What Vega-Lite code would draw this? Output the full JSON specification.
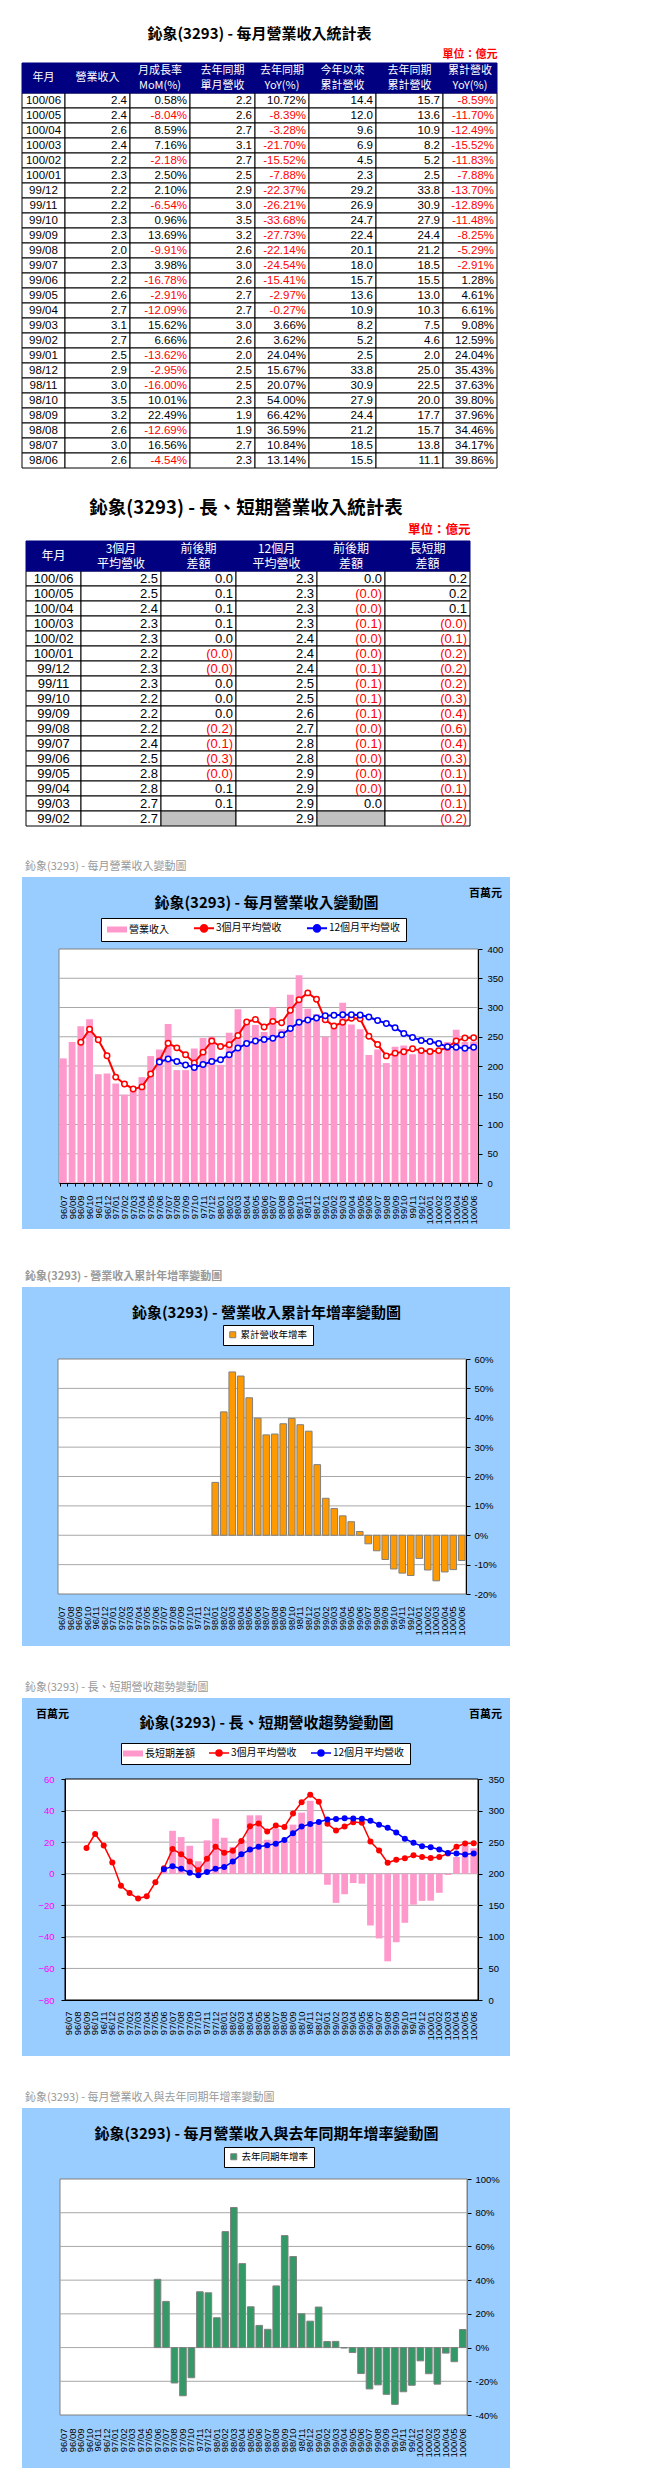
{
"$schema": "https://vega.github.io/schema/vega-lite/v6.json",
"padding": {"left": 17, "top": 0, "right": 0, "bottom": 10},
"background": "#FFFFFF",
"spacing": 0,
"bounds": "flush",
"resolve": {"scale": {"color": "independent", "x": "independent", "y": "independent"}, "legend": {"color": "independent"}},
"datasets": {
"m": [
{"ym":"96/07","rev":213},
{"ym":"96/08","rev":241},
{"ym":"96/09","rev":268,"m3":240.7},
{"ym":"96/10","rev":280,"m3":263},
{"ym":"96/11","rev":186,"m3":244.7},
{"ym":"96/12","rev":187,"m3":217.7},
{"ym":"97/01","rev":170,"m3":181},
{"ym":"97/02","rev":151,"m3":169.3},
{"ym":"97/03","rev":161,"m3":160.7},
{"ym":"97/04","rev":181,"m3":164.3},
{"ym":"97/05","rev":217,"m3":186.3},
{"ym":"97/06","rev":228,"m3":208.7,"m12":206.9,"df":1.8,"yy":40.5},
{"ym":"97/07","rev":272,"m3":239,"m12":211.8,"df":27.2,"yy":27.4},
{"ym":"97/08","rev":193,"m3":231,"m12":207.8,"df":23.2,"yy":-21.0},
{"ym":"97/09","rev":193,"m3":219.3,"m12":201.6,"df":17.7,"yy":-28.6},
{"ym":"97/10","rev":230,"m3":205.3,"m12":197.4,"df":7.9,"yy":-17.9},
{"ym":"97/11","rev":248,"m3":223.7,"m12":202.6,"df":21.1,"yy":33.1},
{"ym":"97/12","rev":250,"m3":242.7,"m12":207.8,"df":34.9,"yy":32.5},
{"ym":"98/01","rev":202,"m3":233.3,"m12":210.5,"df":22.8,"cy":18.0,"yy":17.7},
{"ym":"98/02","rev":257,"m3":236.3,"m12":219.3,"df":17.0,"cy":42.0,"yy":68.8},
{"ym":"98/03","rev":297,"m3":252,"m12":230.7,"df":21.3,"cy":55.6,"yy":83.1},
{"ym":"98/04","rev":272,"m3":275.3,"m12":238.3,"df":37.0,"cy":54.2,"yy":49.8},
{"ym":"98/05","rev":270,"m3":279.7,"m12":242.7,"df":37.0,"cy":46.8,"yy":24.2},
{"ym":"98/06","rev":258,"m3":266.7,"m12":245.2,"df":21.5,"cy":39.86,"yy":13.14},
{"ym":"98/07","rev":301,"m3":276.3,"m12":247.6,"df":28.7,"cy":34.17,"yy":10.84},
{"ym":"98/08","rev":263,"m3":274,"m12":253.4,"df":20.6,"cy":34.46,"yy":36.59},
{"ym":"98/09","rev":322,"m3":295.3,"m12":264.2,"df":31.1,"cy":37.96,"yy":66.42},
{"ym":"98/10","rev":355,"m3":313.3,"m12":274.6,"df":38.7,"cy":39.8,"yy":54.0},
{"ym":"98/11","rev":298,"m3":325,"m12":278.8,"df":46.2,"cy":37.63,"yy":20.07},
{"ym":"98/12","rev":289,"m3":314,"m12":282,"df":32.0,"cy":35.43,"yy":15.67},
{"ym":"99/01","rev":250,"m3":279,"m12":286,"df":-7.0,"cy":24.04,"yy":24.04},
{"ym":"99/02","rev":266,"m3":268.3,"m12":286.8,"df":-18.5,"cy":12.59,"yy":3.62},
{"ym":"99/03","rev":308,"m3":274.7,"m12":287.7,"df":-13.0,"cy":9.08,"yy":3.66},
{"ym":"99/04","rev":271,"m3":281.7,"m12":287.6,"df":-5.9,"cy":6.61,"yy":-0.27},
{"ym":"99/05","rev":263,"m3":280.7,"m12":287,"df":-6.3,"cy":4.61,"yy":-2.97},
{"ym":"99/06","rev":219,"m3":251,"m12":283.8,"df":-32.8,"cy":1.28,"yy":-15.41},
{"ym":"99/07","rev":228,"m3":236.7,"m12":277.7,"df":-41.0,"cy":-2.91,"yy":-24.54},
{"ym":"99/08","rev":205,"m3":217.3,"m12":272.8,"df":-55.5,"cy":-5.29,"yy":-22.14},
{"ym":"99/09","rev":233,"m3":222,"m12":265.4,"df":-43.4,"cy":-8.25,"yy":-27.73},
{"ym":"99/10","rev":235,"m3":224.3,"m12":255.4,"df":-31.1,"cy":-11.48,"yy":-33.68},
{"ym":"99/11","rev":220,"m3":229.3,"m12":248.9,"df":-19.6,"cy":-12.89,"yy":-26.21},
{"ym":"99/12","rev":224,"m3":226.3,"m12":243.5,"df":-17.2,"cy":-13.7,"yy":-22.37},
{"ym":"100/01","rev":230,"m3":224.7,"m12":241.8,"df":-17.1,"cy":-7.88,"yy":-7.88},
{"ym":"100/02","rev":225,"m3":226.3,"m12":238.4,"df":-12.1,"cy":-11.83,"yy":-15.52},
{"ym":"100/03","rev":241,"m3":232,"m12":232.8,"df":-0.8,"cy":-15.52,"yy":-21.7},
{"ym":"100/04","rev":262,"m3":242.7,"m12":232.1,"df":10.6,"cy":-12.49,"yy":-3.28},
{"ym":"100/05","rev":241,"m3":248,"m12":230.3,"df":17.7,"cy":-11.7,"yy":-8.39},
{"ym":"100/06","rev":242,"m3":248.3,"m12":232.2,"df":16.1,"cy":-8.59,"yy":10.72}
],
"t1": [
{"ym":"100/06","rev":"2.4","mom":"0.58%","lm":"2.2","ly":"10.72%","ytd":"14.4","lytd":"15.7","cy":"-8.59%"},
{"ym":"100/05","rev":"2.4","mom":"-8.04%","lm":"2.6","ly":"-8.39%","ytd":"12.0","lytd":"13.6","cy":"-11.70%"},
{"ym":"100/04","rev":"2.6","mom":"8.59%","lm":"2.7","ly":"-3.28%","ytd":"9.6","lytd":"10.9","cy":"-12.49%"},
{"ym":"100/03","rev":"2.4","mom":"7.16%","lm":"3.1","ly":"-21.70%","ytd":"6.9","lytd":"8.2","cy":"-15.52%"},
{"ym":"100/02","rev":"2.2","mom":"-2.18%","lm":"2.7","ly":"-15.52%","ytd":"4.5","lytd":"5.2","cy":"-11.83%"},
{"ym":"100/01","rev":"2.3","mom":"2.50%","lm":"2.5","ly":"-7.88%","ytd":"2.3","lytd":"2.5","cy":"-7.88%"},
{"ym":"99/12","rev":"2.2","mom":"2.10%","lm":"2.9","ly":"-22.37%","ytd":"29.2","lytd":"33.8","cy":"-13.70%"},
{"ym":"99/11","rev":"2.2","mom":"-6.54%","lm":"3.0","ly":"-26.21%","ytd":"26.9","lytd":"30.9","cy":"-12.89%"},
{"ym":"99/10","rev":"2.3","mom":"0.96%","lm":"3.5","ly":"-33.68%","ytd":"24.7","lytd":"27.9","cy":"-11.48%"},
{"ym":"99/09","rev":"2.3","mom":"13.69%","lm":"3.2","ly":"-27.73%","ytd":"22.4","lytd":"24.4","cy":"-8.25%"},
{"ym":"99/08","rev":"2.0","mom":"-9.91%","lm":"2.6","ly":"-22.14%","ytd":"20.1","lytd":"21.2","cy":"-5.29%"},
{"ym":"99/07","rev":"2.3","mom":"3.98%","lm":"3.0","ly":"-24.54%","ytd":"18.0","lytd":"18.5","cy":"-2.91%"},
{"ym":"99/06","rev":"2.2","mom":"-16.78%","lm":"2.6","ly":"-15.41%","ytd":"15.7","lytd":"15.5","cy":"1.28%"},
{"ym":"99/05","rev":"2.6","mom":"-2.91%","lm":"2.7","ly":"-2.97%","ytd":"13.6","lytd":"13.0","cy":"4.61%"},
{"ym":"99/04","rev":"2.7","mom":"-12.09%","lm":"2.7","ly":"-0.27%","ytd":"10.9","lytd":"10.3","cy":"6.61%"},
{"ym":"99/03","rev":"3.1","mom":"15.62%","lm":"3.0","ly":"3.66%","ytd":"8.2","lytd":"7.5","cy":"9.08%"},
{"ym":"99/02","rev":"2.7","mom":"6.66%","lm":"2.6","ly":"3.62%","ytd":"5.2","lytd":"4.6","cy":"12.59%"},
{"ym":"99/01","rev":"2.5","mom":"-13.62%","lm":"2.0","ly":"24.04%","ytd":"2.5","lytd":"2.0","cy":"24.04%"},
{"ym":"98/12","rev":"2.9","mom":"-2.95%","lm":"2.5","ly":"15.67%","ytd":"33.8","lytd":"25.0","cy":"35.43%"},
{"ym":"98/11","rev":"3.0","mom":"-16.00%","lm":"2.5","ly":"20.07%","ytd":"30.9","lytd":"22.5","cy":"37.63%"},
{"ym":"98/10","rev":"3.5","mom":"10.01%","lm":"2.3","ly":"54.00%","ytd":"27.9","lytd":"20.0","cy":"39.80%"},
{"ym":"98/09","rev":"3.2","mom":"22.49%","lm":"1.9","ly":"66.42%","ytd":"24.4","lytd":"17.7","cy":"37.96%"},
{"ym":"98/08","rev":"2.6","mom":"-12.69%","lm":"1.9","ly":"36.59%","ytd":"21.2","lytd":"15.7","cy":"34.46%"},
{"ym":"98/07","rev":"3.0","mom":"16.56%","lm":"2.7","ly":"10.84%","ytd":"18.5","lytd":"13.8","cy":"34.17%"},
{"ym":"98/06","rev":"2.6","mom":"-4.54%","lm":"2.3","ly":"13.14%","ytd":"15.5","lytd":"11.1","cy":"39.86%"}
],
"t2": [
{"ym":"100/06","a3":"2.5","d3":"0.0","a12":"2.3","d12":"0.0","ls":"0.2"},
{"ym":"100/05","a3":"2.5","d3":"0.1","a12":"2.3","d12":"(0.0)","ls":"0.2"},
{"ym":"100/04","a3":"2.4","d3":"0.1","a12":"2.3","d12":"(0.0)","ls":"0.1"},
{"ym":"100/03","a3":"2.3","d3":"0.1","a12":"2.3","d12":"(0.1)","ls":"(0.0)"},
{"ym":"100/02","a3":"2.3","d3":"0.0","a12":"2.4","d12":"(0.0)","ls":"(0.1)"},
{"ym":"100/01","a3":"2.2","d3":"(0.0)","a12":"2.4","d12":"(0.0)","ls":"(0.2)"},
{"ym":"99/12","a3":"2.3","d3":"(0.0)","a12":"2.4","d12":"(0.1)","ls":"(0.2)"},
{"ym":"99/11","a3":"2.3","d3":"0.0","a12":"2.5","d12":"(0.1)","ls":"(0.2)"},
{"ym":"99/10","a3":"2.2","d3":"0.0","a12":"2.5","d12":"(0.1)","ls":"(0.3)"},
{"ym":"99/09","a3":"2.2","d3":"0.0","a12":"2.6","d12":"(0.1)","ls":"(0.4)"},
{"ym":"99/08","a3":"2.2","d3":"(0.2)","a12":"2.7","d12":"(0.0)","ls":"(0.6)"},
{"ym":"99/07","a3":"2.4","d3":"(0.1)","a12":"2.8","d12":"(0.1)","ls":"(0.4)"},
{"ym":"99/06","a3":"2.5","d3":"(0.3)","a12":"2.8","d12":"(0.0)","ls":"(0.3)"},
{"ym":"99/05","a3":"2.8","d3":"(0.0)","a12":"2.9","d12":"(0.0)","ls":"(0.1)"},
{"ym":"99/04","a3":"2.8","d3":"0.1","a12":"2.9","d12":"(0.0)","ls":"(0.1)"},
{"ym":"99/03","a3":"2.7","d3":"0.1","a12":"2.9","d12":"0.0","ls":"(0.1)"},
{"ym":"99/02","a3":"2.7","d3":"","a12":"2.9","d12":"","ls":"(0.2)"}
]
},
"vconcat": [
{"width": 10, "height": 63, "data": {"values": [{}]}, "mark": {"type": "point", "opacity": 0}},
{
 "width": 475, "height": 405,
 "title": {"text": "鈊象(3293) - 每月營業收入統計表", "anchor": "middle", "frame": "group", "fontSize": 15, "fontWeight": "bold", "color": "#000000", "offset": 6},
 "encoding": {"y": {"field": "ym", "type": "ordinal", "scale": {"domain": ["h1","h2","100/06","100/05","100/04","100/03","100/02","100/01","99/12","99/11","99/10","99/09","99/08","99/07","99/06","99/05","99/04","99/03","99/02","99/01","98/12","98/11","98/10","98/09","98/08","98/07","98/06"], "paddingInner": 0, "paddingOuter": 0}, "axis": null}},
 "resolve": {"scale": {"x": "independent"}},
 "layer": [
  {"layer": [
   {"data": {"name": "t1"}, "mark": {"type": "rect", "fill": "#FFFFFF", "stroke": "#000000", "strokeWidth": 1}, "encoding": {"x": {"datum": 0, "type": "quantitative", "scale": {"domain": [0, 1], "range": [0, 43]}, "axis": null}, "x2": {"datum": 1}}},
   {"data": {"values": [{"ym": "h1"}, {"ym": "h2"}]}, "mark": {"type": "rect", "fill": "#000080", "stroke": "#000080", "strokeWidth": 1}, "encoding": {"x": {"datum": 0, "type": "quantitative"}, "x2": {"datum": 1}}},
   {"data": {"values": [{"ym": "h2", "t": "年月"}]}, "mark": {"type": "text", "color": "#FFFFFF", "fontSize": 11}, "encoding": {"x": {"datum": 0.5, "type": "quantitative"}, "y": {"field": "ym", "type": "ordinal", "bandPosition": 0}, "text": {"field": "t"}}},
   {"data": {"name": "t1"}, "mark": {"type": "text", "color": "#000000", "font": "Liberation Sans", "fontSize": 11.5}, "encoding": {"x": {"datum": 0.5, "type": "quantitative"}, "text": {"field": "ym"}}}
  ]},
  {"layer": [
   {"data": {"name": "t1"}, "mark": {"type": "rect", "fill": "#FFFFFF", "stroke": "#000000", "strokeWidth": 1}, "encoding": {"x": {"datum": 0, "type": "quantitative", "scale": {"domain": [0, 1], "range": [43, 108]}, "axis": null}, "x2": {"datum": 1}}},
   {"data": {"values": [{"ym": "h1"}, {"ym": "h2"}]}, "mark": {"type": "rect", "fill": "#000080", "stroke": "#000080", "strokeWidth": 1}, "encoding": {"x": {"datum": 0, "type": "quantitative"}, "x2": {"datum": 1}}},
   {"data": {"values": [{"ym": "h2", "t": "營業收入"}]}, "mark": {"type": "text", "color": "#FFFFFF", "fontSize": 11}, "encoding": {"x": {"datum": 0.5, "type": "quantitative"}, "y": {"field": "ym", "type": "ordinal", "bandPosition": 0}, "text": {"field": "t"}}},
   {"data": {"name": "t1"}, "mark": {"type": "text", "align": "right", "dx": -3, "color": "#000000", "font": "Liberation Sans", "fontSize": 11.5}, "encoding": {"x": {"datum": 1, "type": "quantitative"}, "text": {"field": "rev"}}}
  ]},
  {"layer": [
   {"data": {"name": "t1"}, "mark": {"type": "rect", "fill": "#FFFFFF", "stroke": "#000000", "strokeWidth": 1}, "encoding": {"x": {"datum": 0, "type": "quantitative", "scale": {"domain": [0, 1], "range": [108, 168]}, "axis": null}, "x2": {"datum": 1}}},
   {"data": {"values": [{"ym": "h1"}, {"ym": "h2"}]}, "mark": {"type": "rect", "fill": "#000080", "stroke": "#000080", "strokeWidth": 1}, "encoding": {"x": {"datum": 0, "type": "quantitative"}, "x2": {"datum": 1}}},
   {"data": {"values": [{"ym": "h1", "t": "月成長率"}, {"ym": "h2", "t": "MoM(%)"}]}, "mark": {"type": "text", "color": "#FFFFFF", "fontSize": 11}, "encoding": {"x": {"datum": 0.5, "type": "quantitative"}, "text": {"field": "t"}}},
   {"data": {"name": "t1"}, "mark": {"type": "text", "align": "right", "dx": -3, "font": "Liberation Sans", "fontSize": 11.5}, "encoding": {"x": {"datum": 1, "type": "quantitative"}, "text": {"field": "mom"}, "color": {"condition": {"test": "indexof(datum.mom,'-')===0", "value": "#FF0000"}, "value": "#000000"}}}
  ]},
  {"layer": [
   {"data": {"name": "t1"}, "mark": {"type": "rect", "fill": "#FFFFFF", "stroke": "#000000", "strokeWidth": 1}, "encoding": {"x": {"datum": 0, "type": "quantitative", "scale": {"domain": [0, 1], "range": [168, 233]}, "axis": null}, "x2": {"datum": 1}}},
   {"data": {"values": [{"ym": "h1"}, {"ym": "h2"}]}, "mark": {"type": "rect", "fill": "#000080", "stroke": "#000080", "strokeWidth": 1}, "encoding": {"x": {"datum": 0, "type": "quantitative"}, "x2": {"datum": 1}}},
   {"data": {"values": [{"ym": "h1", "t": "去年同期"}, {"ym": "h2", "t": "單月營收"}]}, "mark": {"type": "text", "color": "#FFFFFF", "fontSize": 11}, "encoding": {"x": {"datum": 0.5, "type": "quantitative"}, "text": {"field": "t"}}},
   {"data": {"name": "t1"}, "mark": {"type": "text", "align": "right", "dx": -3, "color": "#000000", "font": "Liberation Sans", "fontSize": 11.5}, "encoding": {"x": {"datum": 1, "type": "quantitative"}, "text": {"field": "lm"}}}
  ]},
  {"layer": [
   {"data": {"name": "t1"}, "mark": {"type": "rect", "fill": "#FFFFFF", "stroke": "#000000", "strokeWidth": 1}, "encoding": {"x": {"datum": 0, "type": "quantitative", "scale": {"domain": [0, 1], "range": [233, 287]}, "axis": null}, "x2": {"datum": 1}}},
   {"data": {"values": [{"ym": "h1"}, {"ym": "h2"}]}, "mark": {"type": "rect", "fill": "#000080", "stroke": "#000080", "strokeWidth": 1}, "encoding": {"x": {"datum": 0, "type": "quantitative"}, "x2": {"datum": 1}}},
   {"data": {"values": [{"ym": "h1", "t": "去年同期"}, {"ym": "h2", "t": "YoY(%)"}]}, "mark": {"type": "text", "color": "#FFFFFF", "fontSize": 11}, "encoding": {"x": {"datum": 0.5, "type": "quantitative"}, "text": {"field": "t"}}},
   {"data": {"name": "t1"}, "mark": {"type": "text", "align": "right", "dx": -3, "font": "Liberation Sans", "fontSize": 11.5}, "encoding": {"x": {"datum": 1, "type": "quantitative"}, "text": {"field": "ly"}, "color": {"condition": {"test": "indexof(datum.ly,'-')===0", "value": "#FF0000"}, "value": "#000000"}}}
  ]},
  {"layer": [
   {"data": {"name": "t1"}, "mark": {"type": "rect", "fill": "#FFFFFF", "stroke": "#000000", "strokeWidth": 1}, "encoding": {"x": {"datum": 0, "type": "quantitative", "scale": {"domain": [0, 1], "range": [287, 354]}, "axis": null}, "x2": {"datum": 1}}},
   {"data": {"values": [{"ym": "h1"}, {"ym": "h2"}]}, "mark": {"type": "rect", "fill": "#000080", "stroke": "#000080", "strokeWidth": 1}, "encoding": {"x": {"datum": 0, "type": "quantitative"}, "x2": {"datum": 1}}},
   {"data": {"values": [{"ym": "h1", "t": "今年以來"}, {"ym": "h2", "t": "累計營收"}]}, "mark": {"type": "text", "color": "#FFFFFF", "fontSize": 11}, "encoding": {"x": {"datum": 0.5, "type": "quantitative"}, "text": {"field": "t"}}},
   {"data": {"name": "t1"}, "mark": {"type": "text", "align": "right", "dx": -3, "color": "#000000", "font": "Liberation Sans", "fontSize": 11.5}, "encoding": {"x": {"datum": 1, "type": "quantitative"}, "text": {"field": "ytd"}}}
  ]},
  {"layer": [
   {"data": {"name": "t1"}, "mark": {"type": "rect", "fill": "#FFFFFF", "stroke": "#000000", "strokeWidth": 1}, "encoding": {"x": {"datum": 0, "type": "quantitative", "scale": {"domain": [0, 1], "range": [354, 421]}, "axis": null}, "x2": {"datum": 1}}},
   {"data": {"values": [{"ym": "h1"}, {"ym": "h2"}]}, "mark": {"type": "rect", "fill": "#000080", "stroke": "#000080", "strokeWidth": 1}, "encoding": {"x": {"datum": 0, "type": "quantitative"}, "x2": {"datum": 1}}},
   {"data": {"values": [{"ym": "h1", "t": "去年同期"}, {"ym": "h2", "t": "累計營收"}]}, "mark": {"type": "text", "color": "#FFFFFF", "fontSize": 11}, "encoding": {"x": {"datum": 0.5, "type": "quantitative"}, "text": {"field": "t"}}},
   {"data": {"name": "t1"}, "mark": {"type": "text", "align": "right", "dx": -3, "color": "#000000", "font": "Liberation Sans", "fontSize": 11.5}, "encoding": {"x": {"datum": 1, "type": "quantitative"}, "text": {"field": "lytd"}}}
  ]},
  {"layer": [
   {"data": {"name": "t1"}, "mark": {"type": "rect", "fill": "#FFFFFF", "stroke": "#000000", "strokeWidth": 1}, "encoding": {"x": {"datum": 0, "type": "quantitative", "scale": {"domain": [0, 1], "range": [421, 475]}, "axis": {"orient": "top", "labels": false, "ticks": false, "domain": false, "grid": false, "title": "單位：億元", "titleAnchor": "end", "titleColor": "#FF0000", "titleFontSize": 11, "titleFontWeight": "bold", "titlePadding": 4}}, "x2": {"datum": 1}}},
   {"data": {"values": [{"ym": "h1"}, {"ym": "h2"}]}, "mark": {"type": "rect", "fill": "#000080", "stroke": "#000080", "strokeWidth": 1}, "encoding": {"x": {"datum": 0, "type": "quantitative"}, "x2": {"datum": 1}}},
   {"data": {"values": [{"ym": "h1", "t": "累計營收"}, {"ym": "h2", "t": "YoY(%)"}]}, "mark": {"type": "text", "color": "#FFFFFF", "fontSize": 11}, "encoding": {"x": {"datum": 0.5, "type": "quantitative"}, "text": {"field": "t"}}},
   {"data": {"name": "t1"}, "mark": {"type": "text", "align": "right", "dx": -3, "font": "Liberation Sans", "fontSize": 11.5}, "encoding": {"x": {"datum": 1, "type": "quantitative"}, "text": {"field": "cy"}, "color": {"condition": {"test": "indexof(datum.cy,'-')===0", "value": "#FF0000"}, "value": "#000000"}}}
  ]}
 ]
},
{"width": 10, "height": 73, "data": {"values": [{}]}, "mark": {"type": "point", "opacity": 0}},
{
 "width": 448, "height": 285,
 "title": {"text": "鈊象(3293) - 長、短期營業收入統計表", "anchor": "middle", "frame": "group", "fontSize": 18.5, "fontWeight": "bold", "color": "#000000", "offset": 6},
 "encoding": {"y": {"field": "ym", "type": "ordinal", "scale": {"domain": ["h1","h2","100/06","100/05","100/04","100/03","100/02","100/01","99/12","99/11","99/10","99/09","99/08","99/07","99/06","99/05","99/04","99/03","99/02"], "paddingInner": 0, "paddingOuter": 0}, "axis": null}},
 "resolve": {"scale": {"x": "independent"}},
 "layer": [
  {"layer": [
   {"data": {"name": "t2"}, "mark": {"type": "rect", "fill": "#FFFFFF", "stroke": "#000000", "strokeWidth": 1}, "encoding": {"x": {"datum": 0, "type": "quantitative", "scale": {"domain": [0, 1], "range": [4, 59]}, "axis": null}, "x2": {"datum": 1}}},
   {"data": {"values": [{"ym": "h1"}, {"ym": "h2"}]}, "mark": {"type": "rect", "fill": "#000080", "stroke": "#000080", "strokeWidth": 1}, "encoding": {"x": {"datum": 0, "type": "quantitative"}, "x2": {"datum": 1}}},
   {"data": {"values": [{"ym": "h2", "t": "年月"}]}, "mark": {"type": "text", "color": "#FFFFFF", "fontSize": 12}, "encoding": {"x": {"datum": 0.5, "type": "quantitative"}, "y": {"field": "ym", "type": "ordinal", "bandPosition": 0}, "text": {"field": "t"}}},
   {"data": {"name": "t2"}, "mark": {"type": "text", "color": "#000000", "font": "Liberation Sans", "fontSize": 13}, "encoding": {"x": {"datum": 0.5, "type": "quantitative"}, "text": {"field": "ym"}}}
  ]},
  {"layer": [
   {"data": {"name": "t2"}, "mark": {"type": "rect", "fill": "#FFFFFF", "stroke": "#000000", "strokeWidth": 1}, "encoding": {"x": {"datum": 0, "type": "quantitative", "scale": {"domain": [0, 1], "range": [59, 139]}, "axis": null}, "x2": {"datum": 1}}},
   {"data": {"values": [{"ym": "h1"}, {"ym": "h2"}]}, "mark": {"type": "rect", "fill": "#000080", "stroke": "#000080", "strokeWidth": 1}, "encoding": {"x": {"datum": 0, "type": "quantitative"}, "x2": {"datum": 1}}},
   {"data": {"values": [{"ym": "h1", "t": "3個月"}, {"ym": "h2", "t": "平均營收"}]}, "mark": {"type": "text", "color": "#FFFFFF", "fontSize": 12}, "encoding": {"x": {"datum": 0.5, "type": "quantitative"}, "text": {"field": "t"}}},
   {"data": {"name": "t2"}, "mark": {"type": "text", "align": "right", "dx": -3, "color": "#000000", "font": "Liberation Sans", "fontSize": 13}, "encoding": {"x": {"datum": 1, "type": "quantitative"}, "text": {"field": "a3"}}}
  ]},
  {"layer": [
   {"data": {"name": "t2"}, "mark": {"type": "rect", "stroke": "#000000", "strokeWidth": 1}, "encoding": {"x": {"datum": 0, "type": "quantitative", "scale": {"domain": [0, 1], "range": [139, 214]}, "axis": null}, "x2": {"datum": 1}, "fill": {"condition": {"test": "datum.d3===''", "value": "#C0C0C0"}, "value": "#FFFFFF"}}},
   {"data": {"values": [{"ym": "h1"}, {"ym": "h2"}]}, "mark": {"type": "rect", "fill": "#000080", "stroke": "#000080", "strokeWidth": 1}, "encoding": {"x": {"datum": 0, "type": "quantitative"}, "x2": {"datum": 1}}},
   {"data": {"values": [{"ym": "h1", "t": "前後期"}, {"ym": "h2", "t": "差額"}]}, "mark": {"type": "text", "color": "#FFFFFF", "fontSize": 12}, "encoding": {"x": {"datum": 0.5, "type": "quantitative"}, "text": {"field": "t"}}},
   {"data": {"name": "t2"}, "mark": {"type": "text", "align": "right", "dx": -3, "font": "Liberation Sans", "fontSize": 13}, "encoding": {"x": {"datum": 1, "type": "quantitative"}, "text": {"field": "d3"}, "color": {"condition": {"test": "indexof(datum.d3,'(')===0", "value": "#FF0000"}, "value": "#000000"}}}
  ]},
  {"layer": [
   {"data": {"name": "t2"}, "mark": {"type": "rect", "fill": "#FFFFFF", "stroke": "#000000", "strokeWidth": 1}, "encoding": {"x": {"datum": 0, "type": "quantitative", "scale": {"domain": [0, 1], "range": [214, 295]}, "axis": null}, "x2": {"datum": 1}}},
   {"data": {"values": [{"ym": "h1"}, {"ym": "h2"}]}, "mark": {"type": "rect", "fill": "#000080", "stroke": "#000080", "strokeWidth": 1}, "encoding": {"x": {"datum": 0, "type": "quantitative"}, "x2": {"datum": 1}}},
   {"data": {"values": [{"ym": "h1", "t": "12個月"}, {"ym": "h2", "t": "平均營收"}]}, "mark": {"type": "text", "color": "#FFFFFF", "fontSize": 12}, "encoding": {"x": {"datum": 0.5, "type": "quantitative"}, "text": {"field": "t"}}},
   {"data": {"name": "t2"}, "mark": {"type": "text", "align": "right", "dx": -3, "color": "#000000", "font": "Liberation Sans", "fontSize": 13}, "encoding": {"x": {"datum": 1, "type": "quantitative"}, "text": {"field": "a12"}}}
  ]},
  {"layer": [
   {"data": {"name": "t2"}, "mark": {"type": "rect", "stroke": "#000000", "strokeWidth": 1}, "encoding": {"x": {"datum": 0, "type": "quantitative", "scale": {"domain": [0, 1], "range": [295, 363]}, "axis": null}, "x2": {"datum": 1}, "fill": {"condition": {"test": "datum.d12===''", "value": "#C0C0C0"}, "value": "#FFFFFF"}}},
   {"data": {"values": [{"ym": "h1"}, {"ym": "h2"}]}, "mark": {"type": "rect", "fill": "#000080", "stroke": "#000080", "strokeWidth": 1}, "encoding": {"x": {"datum": 0, "type": "quantitative"}, "x2": {"datum": 1}}},
   {"data": {"values": [{"ym": "h1", "t": "前後期"}, {"ym": "h2", "t": "差額"}]}, "mark": {"type": "text", "color": "#FFFFFF", "fontSize": 12}, "encoding": {"x": {"datum": 0.5, "type": "quantitative"}, "text": {"field": "t"}}},
   {"data": {"name": "t2"}, "mark": {"type": "text", "align": "right", "dx": -3, "font": "Liberation Sans", "fontSize": 13}, "encoding": {"x": {"datum": 1, "type": "quantitative"}, "text": {"field": "d12"}, "color": {"condition": {"test": "indexof(datum.d12,'(')===0", "value": "#FF0000"}, "value": "#000000"}}}
  ]},
  {"layer": [
   {"data": {"name": "t2"}, "mark": {"type": "rect", "fill": "#FFFFFF", "stroke": "#000000", "strokeWidth": 1}, "encoding": {"x": {"datum": 0, "type": "quantitative", "scale": {"domain": [0, 1], "range": [363, 448]}, "axis": {"orient": "top", "labels": false, "ticks": false, "domain": false, "grid": false, "title": "單位：億元", "titleAnchor": "end", "titleColor": "#FF0000", "titleFontSize": 12.5, "titleFontWeight": "bold", "titlePadding": 5}}, "x2": {"datum": 1}}},
   {"data": {"values": [{"ym": "h1"}, {"ym": "h2"}]}, "mark": {"type": "rect", "fill": "#000080", "stroke": "#000080", "strokeWidth": 1}, "encoding": {"x": {"datum": 0, "type": "quantitative"}, "x2": {"datum": 1}}},
   {"data": {"values": [{"ym": "h1", "t": "長短期"}, {"ym": "h2", "t": "差額"}]}, "mark": {"type": "text", "color": "#FFFFFF", "fontSize": 12}, "encoding": {"x": {"datum": 0.5, "type": "quantitative"}, "text": {"field": "t"}}},
   {"data": {"name": "t2"}, "mark": {"type": "text", "align": "right", "dx": -3, "font": "Liberation Sans", "fontSize": 13}, "encoding": {"x": {"datum": 1, "type": "quantitative"}, "text": {"field": "ls"}, "color": {"condition": {"test": "indexof(datum.ls,'(')===0", "value": "#FF0000"}, "value": "#000000"}}}
  ]}
 ]
},
{"width": 10, "height": 51, "data": {"values": [{}]}, "mark": {"type": "point", "opacity": 0}},
{
 "width": 488, "height": 352,
 "view": {"fill": "#99CCFF", "stroke": null},
 "title": {"text": "鈊象(3293) - 每月營業收入變動圖", "anchor": "start", "frame": "group", "color": "#999999", "fontSize": 11, "fontWeight": "normal", "offset": 5, "dx": 3},
 "resolve": {"scale": {"x": "independent", "y": "independent"}},
 "layer": [
  {"layer": [
   {"data": {"values": [{}]}, "mark": {"type": "rect", "fill": "#FFFFFF", "stroke": "#808080", "strokeWidth": 1},
    "encoding": {"x": {"datum": 0, "type": "quantitative", "scale": {"domain": [0, 1], "range": [37, 456]}, "axis": null}, "x2": {"datum": 1}, "y": {"datum": 0, "type": "quantitative", "scale": {"domain": [0, 400], "range": [306, 72], "nice": false, "zero": false}, "axis": null}, "y2": {"datum": 400}}},
   {"data": {"values": [{"g": 50}, {"g": 100}, {"g": 150}, {"g": 200}, {"g": 250}, {"g": 300}, {"g": 350}]}, "mark": {"type": "rule", "color": "#A8A8A8", "strokeWidth": 1},
    "encoding": {"x": {"datum": 0, "type": "quantitative"}, "x2": {"datum": 1}, "y": {"field": "g", "type": "quantitative"}}}
  ]},
  {"data": {"name": "m"},
   "encoding": {"x": {"field": "ym", "type": "ordinal", "scale": {"domain": ["96/07","96/08","96/09","96/10","96/11","96/12","97/01","97/02","97/03","97/04","97/05","97/06","97/07","97/08","97/09","97/10","97/11","97/12","98/01","98/02","98/03","98/04","98/05","98/06","98/07","98/08","98/09","98/10","98/11","98/12","99/01","99/02","99/03","99/04","99/05","99/06","99/07","99/08","99/09","99/10","99/11","99/12","100/01","100/02","100/03","100/04","100/05","100/06"], "range": [37, 456], "paddingInner": 0.22, "paddingOuter": 0.11},
     "axis": {"orient": "bottom", "offset": -46, "zindex": 1, "labelAngle": -90, "labelFontSize": 9.5, "labelPadding": 9, "ticks": true, "tickSize": 3, "tickBand": "extent", "domain": true, "domainColor": "#000000", "labelOverlap": false, "title": "鈊象(3293) - 每月營業收入變動圖", "titleX": 244, "titleY": -281, "titleAngle": 0, "titleAlign": "center", "titleBaseline": "middle", "titleFontSize": 15, "titleFontWeight": "bold", "titleColor": "#000000"}}},
   "layer": [
    {"mark": {"type": "bar"},
     "encoding": {"y": {"field": "rev", "type": "quantitative", "scale": {"domain": [0, 400], "range": [306, 72], "nice": false, "zero": false},
        "axis": {"orient": "right", "offset": -32, "zindex": 1, "values": [0, 50, 100, 150, 200, 250, 300, 350, 400], "grid": false, "domainColor": "#000000", "tickSize": 4, "labelPadding": 5, "title": "百萬元", "titleAngle": 0, "titleX": 7, "titleY": 16, "titleAlign": "center", "titleBaseline": "middle", "titleFontSize": 11, "titleFontWeight": "bold", "titleColor": "#000000"}},
      "color": {"datum": "營業收入", "type": "nominal", "scale": {"domain": ["營業收入", "3個月平均營收", "12個月平均營收"], "range": ["#FF99CC", "#FF0000", "#0000FF"]},
        "legend": {"orient": "none", "legendX": 79, "legendY": 41, "direction": "horizontal", "title": "　", "titleOrient": "left", "titleFontSize": 12, "titlePadding": 6, "fillColor": "#FFFFFF", "strokeColor": "#000000", "padding": 5, "symbolSize": 144, "labelOffset": 7, "columnPadding": 20, "labelFontSize": 10,
          "encode": {"symbols": {"update": {
            "shape": {"signal": "datum.value === '營業收入' ? 'M-1.67,-0.5H1.67V0.5H-1.67Z' : 'M-1.67,0H-0.55M0.55,0H1.67M-0.55,0A0.55,0.55,0,1,0,0.55,0A0.55,0.55,0,1,0,-0.55,0'"},
            "fill": {"signal": "datum.value === '營業收入' ? '#FF99CC' : '#FFFFFF'"},
            "stroke": {"signal": "datum.value === '營業收入' ? '#FF99CC' : (datum.value === '3個月平均營收' ? '#FF0000' : '#0000FF')"},
            "strokeWidth": {"signal": "datum.value === '營業收入' ? 0 : 2"}}}}}}}},
    {"mark": {"type": "line", "strokeWidth": 2}, "encoding": {"y": {"field": "m3", "type": "quantitative"}, "color": {"datum": "3個月平均營收", "type": "nominal"}}},
    {"mark": {"type": "point", "filled": false, "fill": "#FFFFFF", "size": 30, "strokeWidth": 1.5, "opacity": 1}, "encoding": {"y": {"field": "m3", "type": "quantitative"}, "color": {"datum": "3個月平均營收", "type": "nominal"}}},
    {"mark": {"type": "line", "strokeWidth": 2}, "encoding": {"y": {"field": "m12", "type": "quantitative"}, "color": {"datum": "12個月平均營收", "type": "nominal"}}},
    {"mark": {"type": "point", "filled": false, "fill": "#FFFFFF", "size": 30, "strokeWidth": 1.5, "opacity": 1}, "encoding": {"y": {"field": "m12", "type": "quantitative"}, "color": {"datum": "12個月平均營收", "type": "nominal"}}}
   ]}
 ]
},
{"width": 10, "height": 58, "data": {"values": [{}]}, "mark": {"type": "point", "opacity": 0}},
{
 "width": 488, "height": 359,
 "view": {"fill": "#99CCFF", "stroke": null},
 "title": {"text": "鈊象(3293) - 營業收入累計年增率變動圖", "anchor": "start", "frame": "group", "color": "#999999", "fontSize": 11, "fontWeight": "bold", "offset": 5, "dx": 3},
 "resolve": {"scale": {"x": "independent", "y": "independent"}},
 "layer": [
  {"layer": [
   {"data": {"values": [{}]}, "mark": {"type": "rect", "fill": "#FFFFFF", "stroke": "#808080", "strokeWidth": 1},
    "encoding": {"x": {"datum": 0, "type": "quantitative", "scale": {"domain": [0, 1], "range": [36, 444]}, "axis": null}, "x2": {"datum": 1}, "y": {"datum": -20, "type": "quantitative", "scale": {"domain": [-20, 60], "range": [307, 72], "nice": false, "zero": false}, "axis": null}, "y2": {"datum": 60}}},
   {"data": {"values": [{"g": -10}, {"g": 0}, {"g": 10}, {"g": 20}, {"g": 30}, {"g": 40}, {"g": 50}]}, "mark": {"type": "rule", "color": "#A8A8A8", "strokeWidth": 1},
    "encoding": {"x": {"datum": 0, "type": "quantitative"}, "x2": {"datum": 1}, "y": {"field": "g", "type": "quantitative"}}}
  ]},
  {"data": {"name": "m"},
   "encoding": {"x": {"field": "ym", "type": "ordinal", "scale": {"domain": ["96/07","96/08","96/09","96/10","96/11","96/12","97/01","97/02","97/03","97/04","97/05","97/06","97/07","97/08","97/09","97/10","97/11","97/12","98/01","98/02","98/03","98/04","98/05","98/06","98/07","98/08","98/09","98/10","98/11","98/12","99/01","99/02","99/03","99/04","99/05","99/06","99/07","99/08","99/09","99/10","99/11","99/12","100/01","100/02","100/03","100/04","100/05","100/06"], "range": [36, 444], "paddingInner": 0.22, "paddingOuter": 0.11},
     "axis": {"orient": "bottom", "offset": -52, "zindex": 1, "labelAngle": -90, "labelFontSize": 9.5, "labelPadding": 12, "ticks": false, "domain": false, "labelOverlap": false, "title": "鈊象(3293) - 營業收入累計年增率變動圖", "titleX": 244, "titleY": -282, "titleAngle": 0, "titleAlign": "center", "titleBaseline": "middle", "titleFontSize": 15, "titleFontWeight": "bold", "titleColor": "#000000"}}},
   "layer": [
    {"mark": {"type": "bar", "stroke": "#808080", "strokeWidth": 1},
     "encoding": {"y": {"field": "cy", "type": "quantitative", "scale": {"domain": [-20, 60], "range": [307, 72], "nice": false, "zero": false},
        "axis": {"orient": "right", "offset": -44, "zindex": 1, "values": [-20, -10, 0, 10, 20, 30, 40, 50, 60], "labelExpr": "datum.value + '%'", "grid": false, "domainColor": "#000000", "tickSize": 4, "labelPadding": 4, "title": null}},
      "color": {"datum": "累計營收年增率", "type": "nominal", "scale": {"domain": ["累計營收年增率"], "range": ["#FF9900"]},
        "legend": {"orient": "none", "legendX": 201, "legendY": 38, "direction": "horizontal", "title": null, "fillColor": "#FFFFFF", "strokeColor": "#000000", "padding": 5, "symbolType": "square", "symbolSize": 36, "symbolStrokeColor": "#808080", "symbolStrokeWidth": 1, "labelOffset": 3, "labelFontSize": 9.5}}}}
   ]}
 ]
},
{"width": 10, "height": 52, "data": {"values": [{}]}, "mark": {"type": "point", "opacity": 0}},
{
 "width": 488, "height": 358,
 "view": {"fill": "#99CCFF", "stroke": null},
 "title": {"text": "鈊象(3293) - 長、短期營收趨勢變動圖", "anchor": "start", "frame": "group", "color": "#999999", "fontSize": 11, "fontWeight": "normal", "offset": 5, "dx": 3},
 "resolve": {"scale": {"x": "independent", "y": "independent"}},
 "layer": [
  {"layer": [
   {"data": {"values": [{}]}, "mark": {"type": "rect", "fill": "#FFFFFF", "stroke": "#000000", "strokeWidth": 1},
    "encoding": {"x": {"datum": 0, "type": "quantitative", "scale": {"domain": [0, 1], "range": [43, 456]}, "axis": null}, "x2": {"datum": 1}, "y": {"datum": -80, "type": "quantitative", "scale": {"domain": [-80, 60], "range": [302, 81], "nice": false, "zero": false}, "axis": null}, "y2": {"datum": 60}}},
   {"data": {"values": [{"g": -60}, {"g": -40}, {"g": -20}, {"g": 0}, {"g": 20}, {"g": 40}]}, "mark": {"type": "rule", "color": "#A8A8A8", "strokeWidth": 1},
    "encoding": {"x": {"datum": 0, "type": "quantitative"}, "x2": {"datum": 1}, "y": {"field": "g", "type": "quantitative"}}}
  ]},
  {"data": {"name": "m"},
   "resolve": {"scale": {"y": "independent"}},
   "encoding": {"x": {"field": "ym", "type": "ordinal", "scale": {"domain": ["96/07","96/08","96/09","96/10","96/11","96/12","97/01","97/02","97/03","97/04","97/05","97/06","97/07","97/08","97/09","97/10","97/11","97/12","98/01","98/02","98/03","98/04","98/05","98/06","98/07","98/08","98/09","98/10","98/11","98/12","99/01","99/02","99/03","99/04","99/05","99/06","99/07","99/08","99/09","99/10","99/11","99/12","100/01","100/02","100/03","100/04","100/05","100/06"], "range": [43, 456], "paddingInner": 0.22, "paddingOuter": 0.11},
     "axis": {"orient": "bottom", "offset": -56, "zindex": 1, "labelAngle": -90, "labelFontSize": 9.5, "labelPadding": 11, "ticks": false, "domain": true, "domainColor": "#000000", "labelOverlap": false, "title": "鈊象(3293) - 長、短期營收趨勢變動圖", "titleX": 244, "titleY": -278, "titleAngle": 0, "titleAlign": "center", "titleBaseline": "middle", "titleFontSize": 15, "titleFontWeight": "bold", "titleColor": "#000000"}}},
   "layer": [
    {"mark": {"type": "bar"},
     "encoding": {"y": {"field": "df", "type": "quantitative", "scale": {"domain": [-80, 60], "range": [302, 81], "nice": false, "zero": false},
        "axis": {"orient": "left", "offset": -43, "zindex": 1, "values": [-80, -60, -40, -20, 0, 20, 40, 60], "labelColor": "#FF00FF", "grid": false, "domainColor": "#000000", "tickSize": 4, "labelPadding": 7, "title": "百萬元", "titleAngle": 0, "titleX": -13, "titleY": 16, "titleAlign": "center", "titleBaseline": "middle", "titleFontSize": 11, "titleFontWeight": "bold", "titleColor": "#000000"}},
      "color": {"datum": "長短期差額", "type": "nominal", "scale": {"domain": ["長短期差額", "3個月平均營收", "12個月平均營收"], "range": ["#FF99CC", "#FF0000", "#0000FF"]},
        "legend": {"orient": "none", "legendX": 99, "legendY": 45, "direction": "horizontal", "title": "　", "titleOrient": "left", "titleFontSize": 6, "titlePadding": 2, "fillColor": "#FFFFFF", "strokeColor": "#000000", "padding": 5, "symbolSize": 144, "labelOffset": 7, "columnPadding": 10, "labelFontSize": 10,
          "encode": {"symbols": {"update": {
            "shape": {"signal": "datum.value === '長短期差額' ? 'M-1.67,-0.5H1.67V0.5H-1.67Z' : 'M-1.67,0H-0.5M0.5,0H1.67M-0.5,0A0.5,0.5,0,1,0,0.5,0A0.5,0.5,0,1,0,-0.5,0'"},
            "fill": {"signal": "datum.value === '長短期差額' ? '#FF99CC' : (datum.value === '3個月平均營收' ? '#FF0000' : '#0000FF')"},
            "stroke": {"signal": "datum.value === '長短期差額' ? '#FF99CC' : (datum.value === '3個月平均營收' ? '#FF0000' : '#0000FF')"},
            "strokeWidth": {"signal": "datum.value === '長短期差額' ? 0 : 1.5"}}}}}}}},
    {"layer": [
      {"mark": {"type": "line", "strokeWidth": 1.5},
       "encoding": {"y": {"field": "m3", "type": "quantitative", "scale": {"domain": [0, 350], "range": [302, 81], "nice": false, "zero": false},
          "axis": {"orient": "right", "offset": -32, "zindex": 1, "values": [0, 50, 100, 150, 200, 250, 300, 350], "grid": false, "domainColor": "#000000", "tickSize": 4, "labelPadding": 6, "title": "百萬元", "titleAngle": 0, "titleX": 7, "titleY": 16, "titleAlign": "center", "titleBaseline": "middle", "titleFontSize": 11, "titleFontWeight": "bold", "titleColor": "#000000"}},
        "color": {"datum": "3個月平均營收", "type": "nominal"}}},
      {"mark": {"type": "point", "filled": true, "size": 36, "opacity": 1}, "encoding": {"y": {"field": "m3", "type": "quantitative"}, "color": {"datum": "3個月平均營收", "type": "nominal"}}},
      {"mark": {"type": "line", "strokeWidth": 1.5}, "encoding": {"y": {"field": "m12", "type": "quantitative"}, "color": {"datum": "12個月平均營收", "type": "nominal"}}},
      {"mark": {"type": "point", "filled": true, "size": 36, "opacity": 1}, "encoding": {"y": {"field": "m12", "type": "quantitative"}, "color": {"datum": "12個月平均營收", "type": "nominal"}}}
    ]}
   ]}
 ]
},
{"width": 10, "height": 52, "data": {"values": [{}]}, "mark": {"type": "point", "opacity": 0}},
{
 "width": 488, "height": 360,
 "view": {"fill": "#99CCFF", "stroke": null},
 "title": {"text": "鈊象(3293) - 每月營業收入與去年同期年增率變動圖", "anchor": "start", "frame": "group", "color": "#999999", "fontSize": 11, "fontWeight": "normal", "offset": 5, "dx": 3},
 "resolve": {"scale": {"x": "independent", "y": "independent"}},
 "layer": [
  {"layer": [
   {"data": {"values": [{}]}, "mark": {"type": "rect", "fill": "#FFFFFF", "stroke": "#808080", "strokeWidth": 1},
    "encoding": {"x": {"datum": 0, "type": "quantitative", "scale": {"domain": [0, 1], "range": [38, 445]}, "axis": null}, "x2": {"datum": 1}, "y": {"datum": -40, "type": "quantitative", "scale": {"domain": [-40, 100], "range": [307, 71], "nice": false, "zero": false}, "axis": null}, "y2": {"datum": 100}}},
   {"data": {"values": [{"g": -20}, {"g": 0}, {"g": 20}, {"g": 40}, {"g": 60}, {"g": 80}]}, "mark": {"type": "rule", "color": "#A8A8A8", "strokeWidth": 1},
    "encoding": {"x": {"datum": 0, "type": "quantitative"}, "x2": {"datum": 1}, "y": {"field": "g", "type": "quantitative"}}}
  ]},
  {"data": {"name": "m"},
   "encoding": {"x": {"field": "ym", "type": "ordinal", "scale": {"domain": ["96/07","96/08","96/09","96/10","96/11","96/12","97/01","97/02","97/03","97/04","97/05","97/06","97/07","97/08","97/09","97/10","97/11","97/12","98/01","98/02","98/03","98/04","98/05","98/06","98/07","98/08","98/09","98/10","98/11","98/12","99/01","99/02","99/03","99/04","99/05","99/06","99/07","99/08","99/09","99/10","99/11","99/12","100/01","100/02","100/03","100/04","100/05","100/06"], "range": [38, 445], "paddingInner": 0.22, "paddingOuter": 0.11},
     "axis": {"orient": "bottom", "offset": -53, "zindex": 1, "labelAngle": -90, "labelFontSize": 9.5, "labelPadding": 13, "ticks": false, "domain": false, "labelOverlap": false, "title": "鈊象(3293) - 每月營業收入與去年同期年增率變動圖", "titleX": 244, "titleY": -282, "titleAngle": 0, "titleAlign": "center", "titleBaseline": "middle", "titleFontSize": 15, "titleFontWeight": "bold", "titleColor": "#000000"}}},
   "layer": [
    {"mark": {"type": "bar", "stroke": "#808080", "strokeWidth": 1},
     "encoding": {"y": {"field": "yy", "type": "quantitative", "scale": {"domain": [-40, 100], "range": [307, 71], "nice": false, "zero": false},
        "axis": {"orient": "right", "offset": -43, "zindex": 1, "values": [-40, -20, 0, 20, 40, 60, 80, 100], "labelExpr": "datum.value + '%'", "grid": false, "domainColor": "#808080", "tickSize": 4, "labelPadding": 4, "title": null}},
      "color": {"datum": "去年同期年增率", "type": "nominal", "scale": {"domain": ["去年同期年增率"], "range": ["#339966"]},
        "legend": {"orient": "none", "legendX": 202, "legendY": 39, "direction": "horizontal", "title": null, "fillColor": "#FFFFFF", "strokeColor": "#000000", "padding": 5, "symbolType": "square", "symbolSize": 36, "symbolStrokeColor": "#808080", "symbolStrokeWidth": 1, "labelOffset": 3, "labelFontSize": 9.5}}}}
   ]}
 ]
}
],
"config": {
 "font": "Noto Sans CJK TC",
 "view": {"stroke": null},
 "axis": {"labelFont": "Liberation Sans", "labelFontSize": 9.5, "labelColor": "#000000", "domainColor": "#000000", "tickColor": "#000000", "titleFont": "Noto Sans CJK TC", "grid": false},
 "legend": {"labelFont": "Noto Sans CJK TC", "labelColor": "#000000"},
 "title": {"font": "Noto Sans CJK TC"}
}
}
